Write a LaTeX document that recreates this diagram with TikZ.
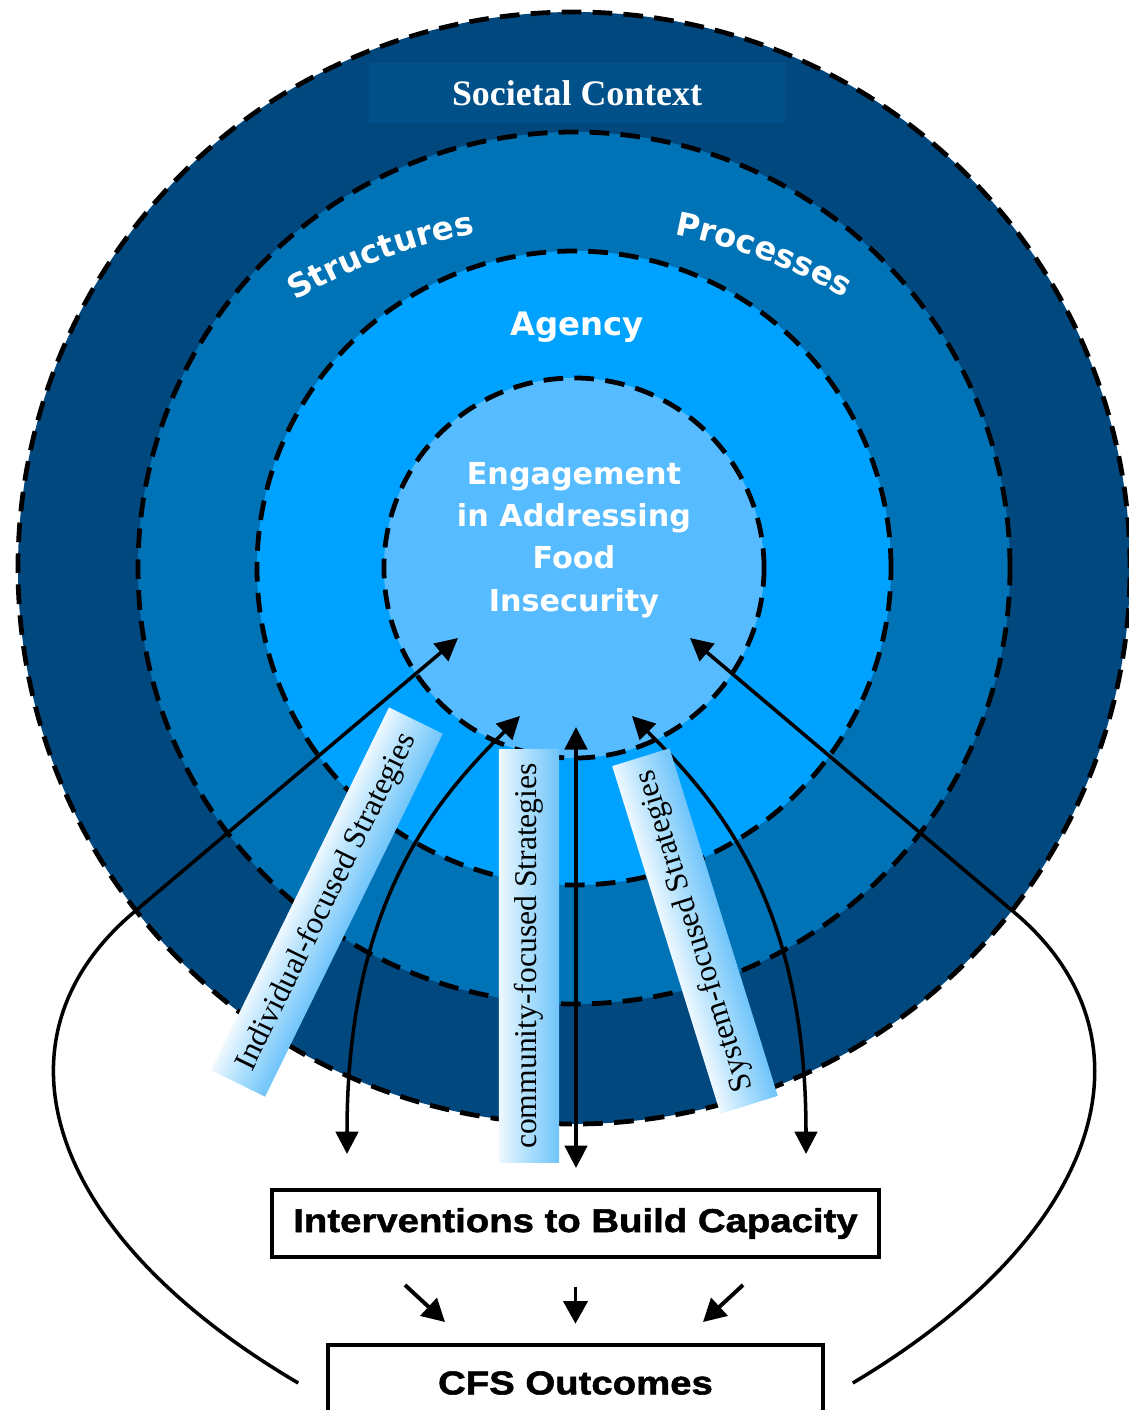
\documentclass[tikz,border=0pt]{standalone}
\usepackage{fontspec}
\setmainfont{Liberation Serif}
\newfontfamily\vfont{DejaVu Sans}
\newfontfamily\afont[FakeStretch=1.16,FakeBold=1.6]{Liberation Sans}
\usetikzlibrary{arrows.meta,decorations.text,calc}

\definecolor{ctxblue}{RGB}{0,72,126}
\definecolor{strblue}{RGB}{0,114,182}
\definecolor{agblue}{RGB}{0,162,255}
\definecolor{engblue}{RGB}{87,187,255}
\definecolor{boxblue}{RGB}{0,80,138}
\definecolor{bandlight}{RGB}{238,248,255}
\definecolor{bandmid}{RGB}{170,222,252}
\definecolor{banddark}{RGB}{112,196,250}

\begin{document}
\begin{tikzpicture}
  [x=0.025cm,y=0.025cm,
    ring/.style={draw=black,line width=3.4pt,dash pattern=on 14pt off 8pt},
    arr/.style={line width=2.5pt,-{Triangle[length=16pt,width=16pt]}},
    dblarr/.style={line width=2.5pt,{Triangle[length=16pt,width=16pt]}-{Triangle[length=16pt,width=16pt]}},
    shortarr/.style={line width=2.8pt,-{Triangle[length=16pt,width=17pt]}},
    wtxt/.style={text=white,align=center,font=\vfont\bfseries\fontsize{21.5}{30}\selectfont},
    arctxt/.style={decorate,decoration={text along path,text align=center,
      text={|\vfont\bfseries\fontsize{23}{23}\selectfont\color{white}|#1}}},
    strat/.style={minimum width=10.1cm,minimum height=1.5cm,inner sep=0pt,
      top color=bandlight,bottom color=banddark,middle color=bandmid,
      font=\fontsize{22.5}{22.5}\selectfont},
    capbox/.style={draw=black,line width=2.4pt,inner sep=0pt,
      font=\afont\bfseries\fontsize{23.5}{23.5}\selectfont},
  ]
  \useasboundingbox (0,0) rectangle (1129,-1410);
  \clip (0,0) rectangle (1129,-1410);
  \coordinate (ctr) at (574,-568);
  \coordinate (arcctr) at (572,-767);

  % rings
  \fill[ctxblue] (ctr) circle[radius=556];
  \draw[ring] (ctr) circle[radius=556];
  \fill[strblue] (ctr) circle[radius=436];
  \draw[ring] (ctr) circle[radius=436];
  \fill[agblue] (ctr) circle[radius=317];
  \draw[ring] (ctr) circle[radius=317];
  \node[circle,fill=engblue,ring,minimum size=9.5cm,inner sep=0pt] (eng) at (ctr) {};

  % labels
  \node[fill=boxblue,minimum width=10.375cm,minimum height=1.475cm,text=white,
    font=\bfseries\fontsize{25.5}{25.5}\selectfont] (soc) at (577,-93) {Societal Context};
  \path[arctxt=Structures] ($(arcctr)+(126:542)$) arc[start angle=126,end angle=95,radius=542];
  \path[arctxt=Processes] ($(arcctr)+(85:542)$) arc[start angle=85,end angle=54,radius=542];
  \node[wtxt,font=\vfont\bfseries\fontsize{23}{23}\selectfont] (agency) at (577,-327) {Agency};
  \node[wtxt] (engtxt) at (574,-540) {Engagement\\in Addressing\\Food\\Insecurity};

  % boxes
  \node[capbox,minimum width=15.175cm,minimum height=1.675cm] (int) at (575.5,-1223.5)
    {Interventions to Build Capacity};
  \node[capbox,minimum width=12.375cm,minimum height=1.9cm] (cfs) at (575.5,-1383)
    {CFS Outcomes};

  % arrow ends
  \coordinate (e1) at (458,-638);
  \coordinate (e2) at (520,-716);
  \coordinate (e3) at (576,-727);
  \coordinate (e4) at (632,-716);
  \coordinate (e5) at (690,-638);
  \coordinate (i1) at (347,-1154);
  \coordinate (i2) at (576,-1168);
  \coordinate (i3) at (806,-1154);

  % feedback loops
  \draw[arr] ([xshift=-0.7cm]cfs.west) .. controls (40,-1231) and (-12,-1036) .. (133,-913) -- (e1);
  \draw[arr] ([xshift=0.7cm]cfs.east) .. controls (1108,-1231) and (1160,-1036) .. (1015,-913) -- (e5);

  % strategies
  \draw[dblarr] (i1) .. controls (347,-902) and (435,-801) .. (e2);
  \draw[dblarr] (i2) -- (e3);
  \draw[dblarr] (i3) .. controls (806,-902) and (717,-801) .. (e4);
  \begin{scope}[transform canvas={shift={(327,-902)},rotate=63.9}]
    \node[strat] (indiv) at (0,0) {Individual-focused Strategies};
  \end{scope}
  \begin{scope}[transform canvas={shift={(529,-956)},rotate=90}]
    \node[strat,minimum width=10.3cm] (comm) at (0,0) {community-focused Strategies};
  \end{scope}
  \begin{scope}[transform canvas={shift={(695,-931)},rotate=107.3}]
    \node[strat,minimum width=9.1cm] (sys) at (0,0) {System-focused Strategies};
  \end{scope}

  % interventions to outcomes
  \draw[shortarr] (405,-1285) -- (445,-1322);
  \draw[shortarr] (int.south) ++(0,-28) -- ++(0,-37);
  \draw[shortarr] (743,-1285) -- (703,-1322);
\end{tikzpicture}
\end{document}
